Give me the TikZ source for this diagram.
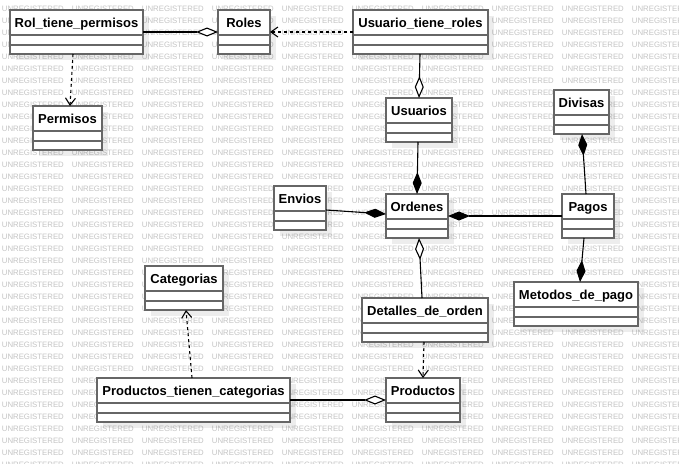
\documentclass[tikz,border=0pt]{standalone}
\usepackage{fontspec}
\setmainfont{Liberation Sans}
\usetikzlibrary{arrows.meta,shadows}
\definecolor{boxline}{HTML}{666666}
\definecolor{wmgray}{HTML}{C4C4C4}
\tikzset{
  clsbox/.style={draw=boxline, line width=1.6pt, fill=white, anchor=north west,
    minimum height=44pt, inner sep=0pt, outer sep=0pt,
    drop shadow={shadow xshift=6pt, shadow yshift=-6pt, fill=black, opacity=0.07, draw=none}},
  sepline/.style={draw=boxline, line width=1.6pt},
  clstitle/.style={anchor=base, inner sep=0pt, font=\fontsize{13}{15}\selectfont\bfseries, text=black},
  wm/.style={anchor=west, inner sep=0pt, font=\fontsize{7.8}{8}\selectfont, text=wmgray},
  conn/.style={draw=black, line width=1.1pt},
  assocO/.style={conn, -{Diamond[open, fill=white, length=22pt, width=9pt]}},
  compF/.style={conn, -{Diamond[fill=black, length=22pt, width=9pt]}},
  depend/.style={conn, dash pattern=on 3pt off 3pt, -{Straight Barb[length=7pt, width=10pt]}},
}
\newcommand\umlclass[5]{%
  \node[clsbox, minimum width=#4pt] (#1) at (#2,#3) {};
  \draw[sepline] ([yshift=-25pt]#1.north west) -- ([yshift=-25pt]#1.north east);
  \draw[sepline] ([yshift=-35pt]#1.north west) -- ([yshift=-35pt]#1.north east);
  \node[clstitle] (#1-t) at ([yshift=-17.5pt]#1.north) {#5};
}
\begin{document}
\begin{tikzpicture}[x=1pt,y=-1pt]
\useasboundingbox (0,0) rectangle (679,463);
\fill[white] (0,0) rectangle (679,463);
\begin{scope}
\clip (0,0) rectangle (679,463);
\foreach \r in {0,...,38}{
  \foreach \c in {0,...,9}{
    \node[wm] (wm-\r-\c) at (1.7+\c*70, 9+\r*12) {UNREGISTERED};
  }
}
\end{scope}

\umlclass{rtp}{10}{10}{133}{Rol\_tiene\_permisos}
\umlclass{roles}{218}{10}{52}{Roles}
\umlclass{utr}{353}{10}{135}{Usuario\_tiene\_roles}
\umlclass{perm}{33}{106}{69}{Permisos}
\umlclass{usu}{386}{98}{66}{Usuarios}
\umlclass{div}{554}{90}{55}{Divisas}
\umlclass{ord}{386}{194}{62}{Ordenes}
\umlclass{pag}{562}{194}{52}{Pagos}
\umlclass{env}{274}{186}{52}{Envios}
\umlclass{cat}{145}{266}{78}{Categorias}
\umlclass{det}{362}{298}{126}{Detalles\_de\_orden}
\umlclass{met}{514}{282}{124}{Metodos\_de\_pago}
\umlclass{ptc}{97}{378}{193}{Productos\_tienen\_categorias}
\umlclass{prod}{386}{378}{74}{Productos}

\draw[assocO] (rtp.east) -- (roles.west);
\draw[depend] ([xshift=-3.5pt]rtp.south) -- ([xshift=2.5pt]perm.north);
\draw[depend] (utr.west) -- (roles.east);
\draw[assocO] ([xshift=-0.5pt]utr.south) -- (usu.north);
\draw[compF] ([xshift=-1pt]usu.south) -- (ord.north);
\draw[compF] ([yshift=-2pt]env.east) -- ([yshift=2pt]ord.west);
\draw[compF] (pag.west) -- (ord.east);
\draw[compF] ([xshift=-2pt]pag.north) -- ([xshift=0.5pt]div.south);
\draw[compF] ([xshift=-4pt]pag.south) -- ([xshift=4pt]met.north);
\draw[assocO] ([xshift=-3pt]det.north) -- ([xshift=2pt]ord.south);
\draw[depend] ([xshift=-1pt]det.south) -- (prod.north);
\draw[depend] ([xshift=-1.5pt]ptc.north) -- ([xshift=2pt]cat.south);
\draw[assocO] (ptc.east) -- (prod.west);
\end{tikzpicture}
\end{document}
